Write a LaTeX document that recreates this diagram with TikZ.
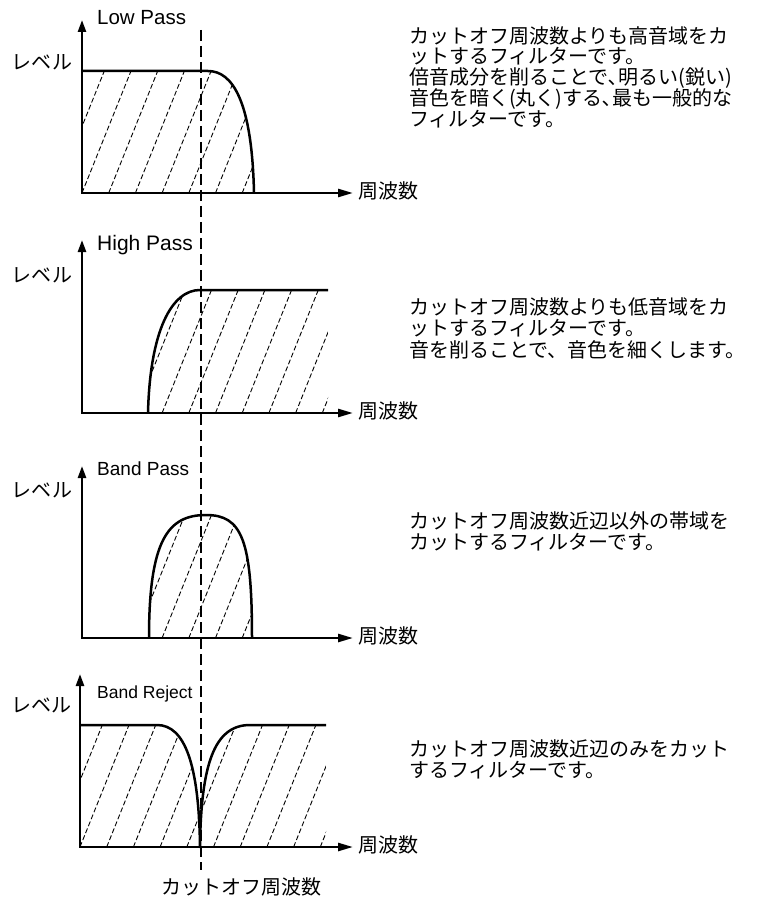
\documentclass[tikz,border=0pt]{standalone}
\usepackage{fontspec}
\setmainfont{Liberation Sans}
\newfontfamily\jpfont{Noto Sans CJK JP}
\usetikzlibrary{arrows.meta}
\begin{document}
\begin{tikzpicture}[x=1pt,y=-1pt,
  axes/.style={line width=2.5pt,line join=miter,{Triangle[length=12pt,width=8pt]}-{Triangle[length=15pt,width=8pt]}},
  resp/.style={line width=2.5pt,line join=round},
  hatchline/.style={line width=0.9pt,dash pattern=on 5pt off 2.5pt,black},
  cutline/.style={line width=2.2pt,dash pattern=on 11pt off 5pt},
  jp/.style={font=\jpfont\fontsize{20}{21}\selectfont,inner sep=0pt},
  desc/.style={inner sep=0pt,align=left,anchor=north west},
  ttl/.style={inner sep=0pt,anchor=base west},
]
\useasboundingbox (0,0) rectangle (757,901);

% ---------- Low Pass ----------
\coordinate (o1) at (82,193);
\coordinate (y1) at (82,20);
\coordinate (x1) at (353,193);
\begin{scope}
  \clip (82,193) -- (82,71) -- (208,71) .. controls (232,71) and (252,100) .. (254,193) -- cycle;
  \foreach \k in {-6,...,8} \draw[hatchline] ({82+\k*26.7},193) -- ++(55,-137);
\end{scope}
\draw[resp] (82,71) -- (208,71) .. controls (232,71) and (252,100) .. (254,193);
\draw[axes] (y1) -- (o1) -- (x1);
\node[ttl,font=\fontsize{20.5}{22}\selectfont] (t1) at (97,25) {Low Pass};
\node[jp] (l1) at (42,62) {レベル};
\node[jp,anchor=west] (f1) at (358,191) {周波数};

% ---------- High Pass ----------
\coordinate (o2) at (82,413);
\coordinate (y2) at (82,240);
\coordinate (x2) at (353,413);
\begin{scope}
  \clip (148,413) .. controls (150,330) and (172,290) .. (200,290) -- (328,290) -- (328,413) -- cycle;
  \foreach \k in {-6,...,12} \draw[hatchline] ({82+\k*26.7},413) -- ++(55,-137);
\end{scope}
\draw[resp] (148,413) .. controls (150,330) and (172,290) .. (200,290) -- (328,290);
\draw[axes] (y2) -- (o2) -- (x2);
\node[ttl,font=\fontsize{21}{22}\selectfont] (t2) at (97,250) {High Pass};
\node[jp] (l2) at (42,275) {レベル};
\node[jp,anchor=west] (f2) at (358,411) {周波数};

% ---------- Band Pass ----------
\coordinate (o3) at (82,638);
\coordinate (y3) at (82,466);
\coordinate (x3) at (353,638);
\begin{scope}
  \clip (149,638) .. controls (149,540) and (168,515) .. (206,515) .. controls (242,515) and (252,540) .. (252,638) -- cycle;
  \foreach \k in {-6,...,12} \draw[hatchline] ({82+\k*26.7},638) -- ++(55,-137);
\end{scope}
\draw[resp] (149,638) .. controls (149,540) and (168,515) .. (206,515) .. controls (242,515) and (252,540) .. (252,638);
\draw[axes] (y3) -- (o3) -- (x3);
\node[ttl,font=\fontsize{19}{21}\selectfont] (t3) at (97,475) {Band Pass};
\node[jp] (l3) at (42,490) {レベル};
\node[jp,anchor=west] (f3) at (358,636) {周波数};

% ---------- Band Reject ----------
\coordinate (o4) at (80,847);
\coordinate (y4) at (80,674);
\coordinate (x4) at (353,847);
\begin{scope}
  \clip (80,847) -- (80,725) -- (157,725) .. controls (185,725) and (199,765) .. (200,847) .. controls (201,765) and (214,725) .. (250,725) -- (326,725) -- (326,847) -- cycle;
  \foreach \k in {-6,...,12} \draw[hatchline] ({80+\k*26.7},847) -- ++(55,-137);
\end{scope}
\draw[resp] (80,725) -- (157,725) .. controls (185,725) and (199,765) .. (200,847) .. controls (201,765) and (214,725) .. (250,725) -- (326,725);
\draw[axes] (y4) -- (o4) -- (x4);
\node[ttl,font=\fontsize{17.5}{20}\selectfont] (t4) at (97,698) {Band Reject};
\node[jp] (l4) at (41,705) {レベル};
\node[jp,anchor=west] (f4) at (358,845) {周波数};

% ---------- cutoff line ----------
\coordinate (ct) at (201,30);
\coordinate (cb) at (201,870);
\draw[cutline] (ct) -- (cb);
\node[jp] (cl) at (241,887) {カットオフ周波数};

% ---------- descriptions ----------
\node[desc,font=\jpfont\fontsize{20}{20.5}\selectfont] (d1) at (409,26)
  {カットオフ周波数よりも高音域をカ\\ットするフィルターです。\\倍音成分を削ることで､明るい(鋭い)\\音色を暗く(丸く)する､最も一般的な\\フィルターです。};
\node[desc,font=\jpfont\fontsize{20}{21.5}\selectfont] (d2) at (409,297)
  {カットオフ周波数よりも低音域をカ\\ットするフィルターです。\\音を削ることで、音色を細くします。};
\node[desc,font=\jpfont\fontsize{20}{21.5}\selectfont] (d3) at (409,511)
  {カットオフ周波数近辺以外の帯域を\\カットするフィルターです。};
\node[desc,font=\jpfont\fontsize{20}{21.5}\selectfont] (d4) at (409,739)
  {カットオフ周波数近辺のみをカット\\するフィルターです。};
\end{tikzpicture}
\end{document}
